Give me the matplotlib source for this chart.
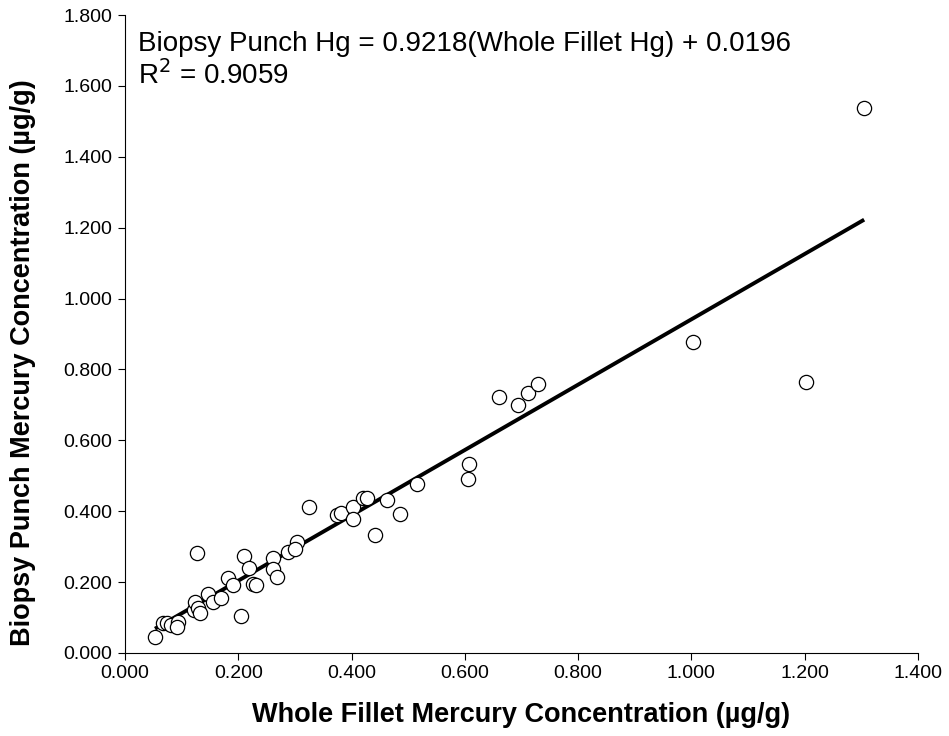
import matplotlib
matplotlib.use("Agg")
import matplotlib.pyplot as plt
import numpy as np

plt.rcParams["font.family"] = ["Liberation Sans", "DejaVu Sans"]

# ── data ──────────────────────────────────────────────────────────────────────
whole_fillet = [0.053, 0.068, 0.074, 0.082, 0.094, 0.092, 0.121, 0.124, 0.129,
                0.132, 0.127, 0.147, 0.156, 0.170, 0.182, 0.191, 0.204, 0.210,
                0.219, 0.226, 0.231, 0.261, 0.262, 0.269, 0.288, 0.303, 0.300,
                0.324, 0.374, 0.382, 0.402, 0.402, 0.420, 0.428, 0.441, 0.462,
                0.486, 0.515, 0.605, 0.607, 0.661, 0.693, 0.712, 0.730, 1.003,
                1.202, 1.305]
biopsy_punch = [0.046, 0.084, 0.085, 0.079, 0.086, 0.072, 0.122, 0.145, 0.128,
                0.114, 0.281, 0.167, 0.145, 0.155, 0.211, 0.192, 0.105, 0.273,
                0.239, 0.196, 0.193, 0.267, 0.236, 0.215, 0.286, 0.314, 0.293,
                0.413, 0.389, 0.396, 0.413, 0.377, 0.436, 0.438, 0.334, 0.433,
                0.392, 0.477, 0.491, 0.533, 0.722, 0.699, 0.733, 0.758, 0.878,
                0.764, 1.538]

SLOPE = 0.9218
INTERCEPT = 0.0196
R2 = 0.9059

x_ticks = [0.0, 0.2, 0.4, 0.6, 0.8, 1.0, 1.2, 1.4]
y_ticks = [0.0, 0.2, 0.4, 0.6, 0.8, 1.0, 1.2, 1.4, 1.6, 1.8]

# ── figure ───────────────────────────────────────────────────────────────────
fig = plt.figure(figsize=(9.49, 7.36), dpi=100, facecolor="white")
ax = fig.add_axes([0.1317, 0.1128, 0.8356, 0.8668])

x_fit = np.array([min(whole_fillet), max(whole_fillet)])
ax.plot(x_fit, SLOPE * x_fit + INTERCEPT, color="black", linewidth=2.8,
        solid_capstyle="butt", zorder=2)
ax.scatter(whole_fillet, biopsy_punch, s=105, facecolors="white",
           edgecolors="black", linewidths=0.9, zorder=3)

ax.set_xlim(0, 1.4)
ax.set_ylim(0, 1.8)
ax.set_xticks(x_ticks)
ax.set_yticks(y_ticks)
ax.set_xticklabels([f"{v:.3f}" for v in x_ticks])
ax.set_yticklabels([f"{v:.3f}" for v in y_ticks])
ax.tick_params(direction="out", length=5, width=0.8, labelsize=14, pad=4)
ax.spines[["top", "right"]].set_visible(False)
for sp in ["left", "bottom"]:
    ax.spines[sp].set_linewidth(0.8)

ax.set_xlabel("Whole Fillet Mercury Concentration (µg/g)", fontsize=19.5,
              fontweight="bold", labelpad=14)
ax.set_ylabel("Biopsy Punch Mercury Concentration (µg/g)", fontsize=19.5,
              fontweight="bold")
ax.yaxis.set_label_coords(-0.112, 0.455)

ax.text(0.016, 0.975,
        f"Biopsy Punch Hg = {SLOPE:.4f}(Whole Fillet Hg) + {INTERCEPT:.4f}\n"
        f"R$^2$ = {R2:.4f}",
        transform=ax.transAxes, ha="left", va="top", fontsize=20,
        linespacing=1.15)

fig.savefig("out.png", dpi=100, facecolor="white")
